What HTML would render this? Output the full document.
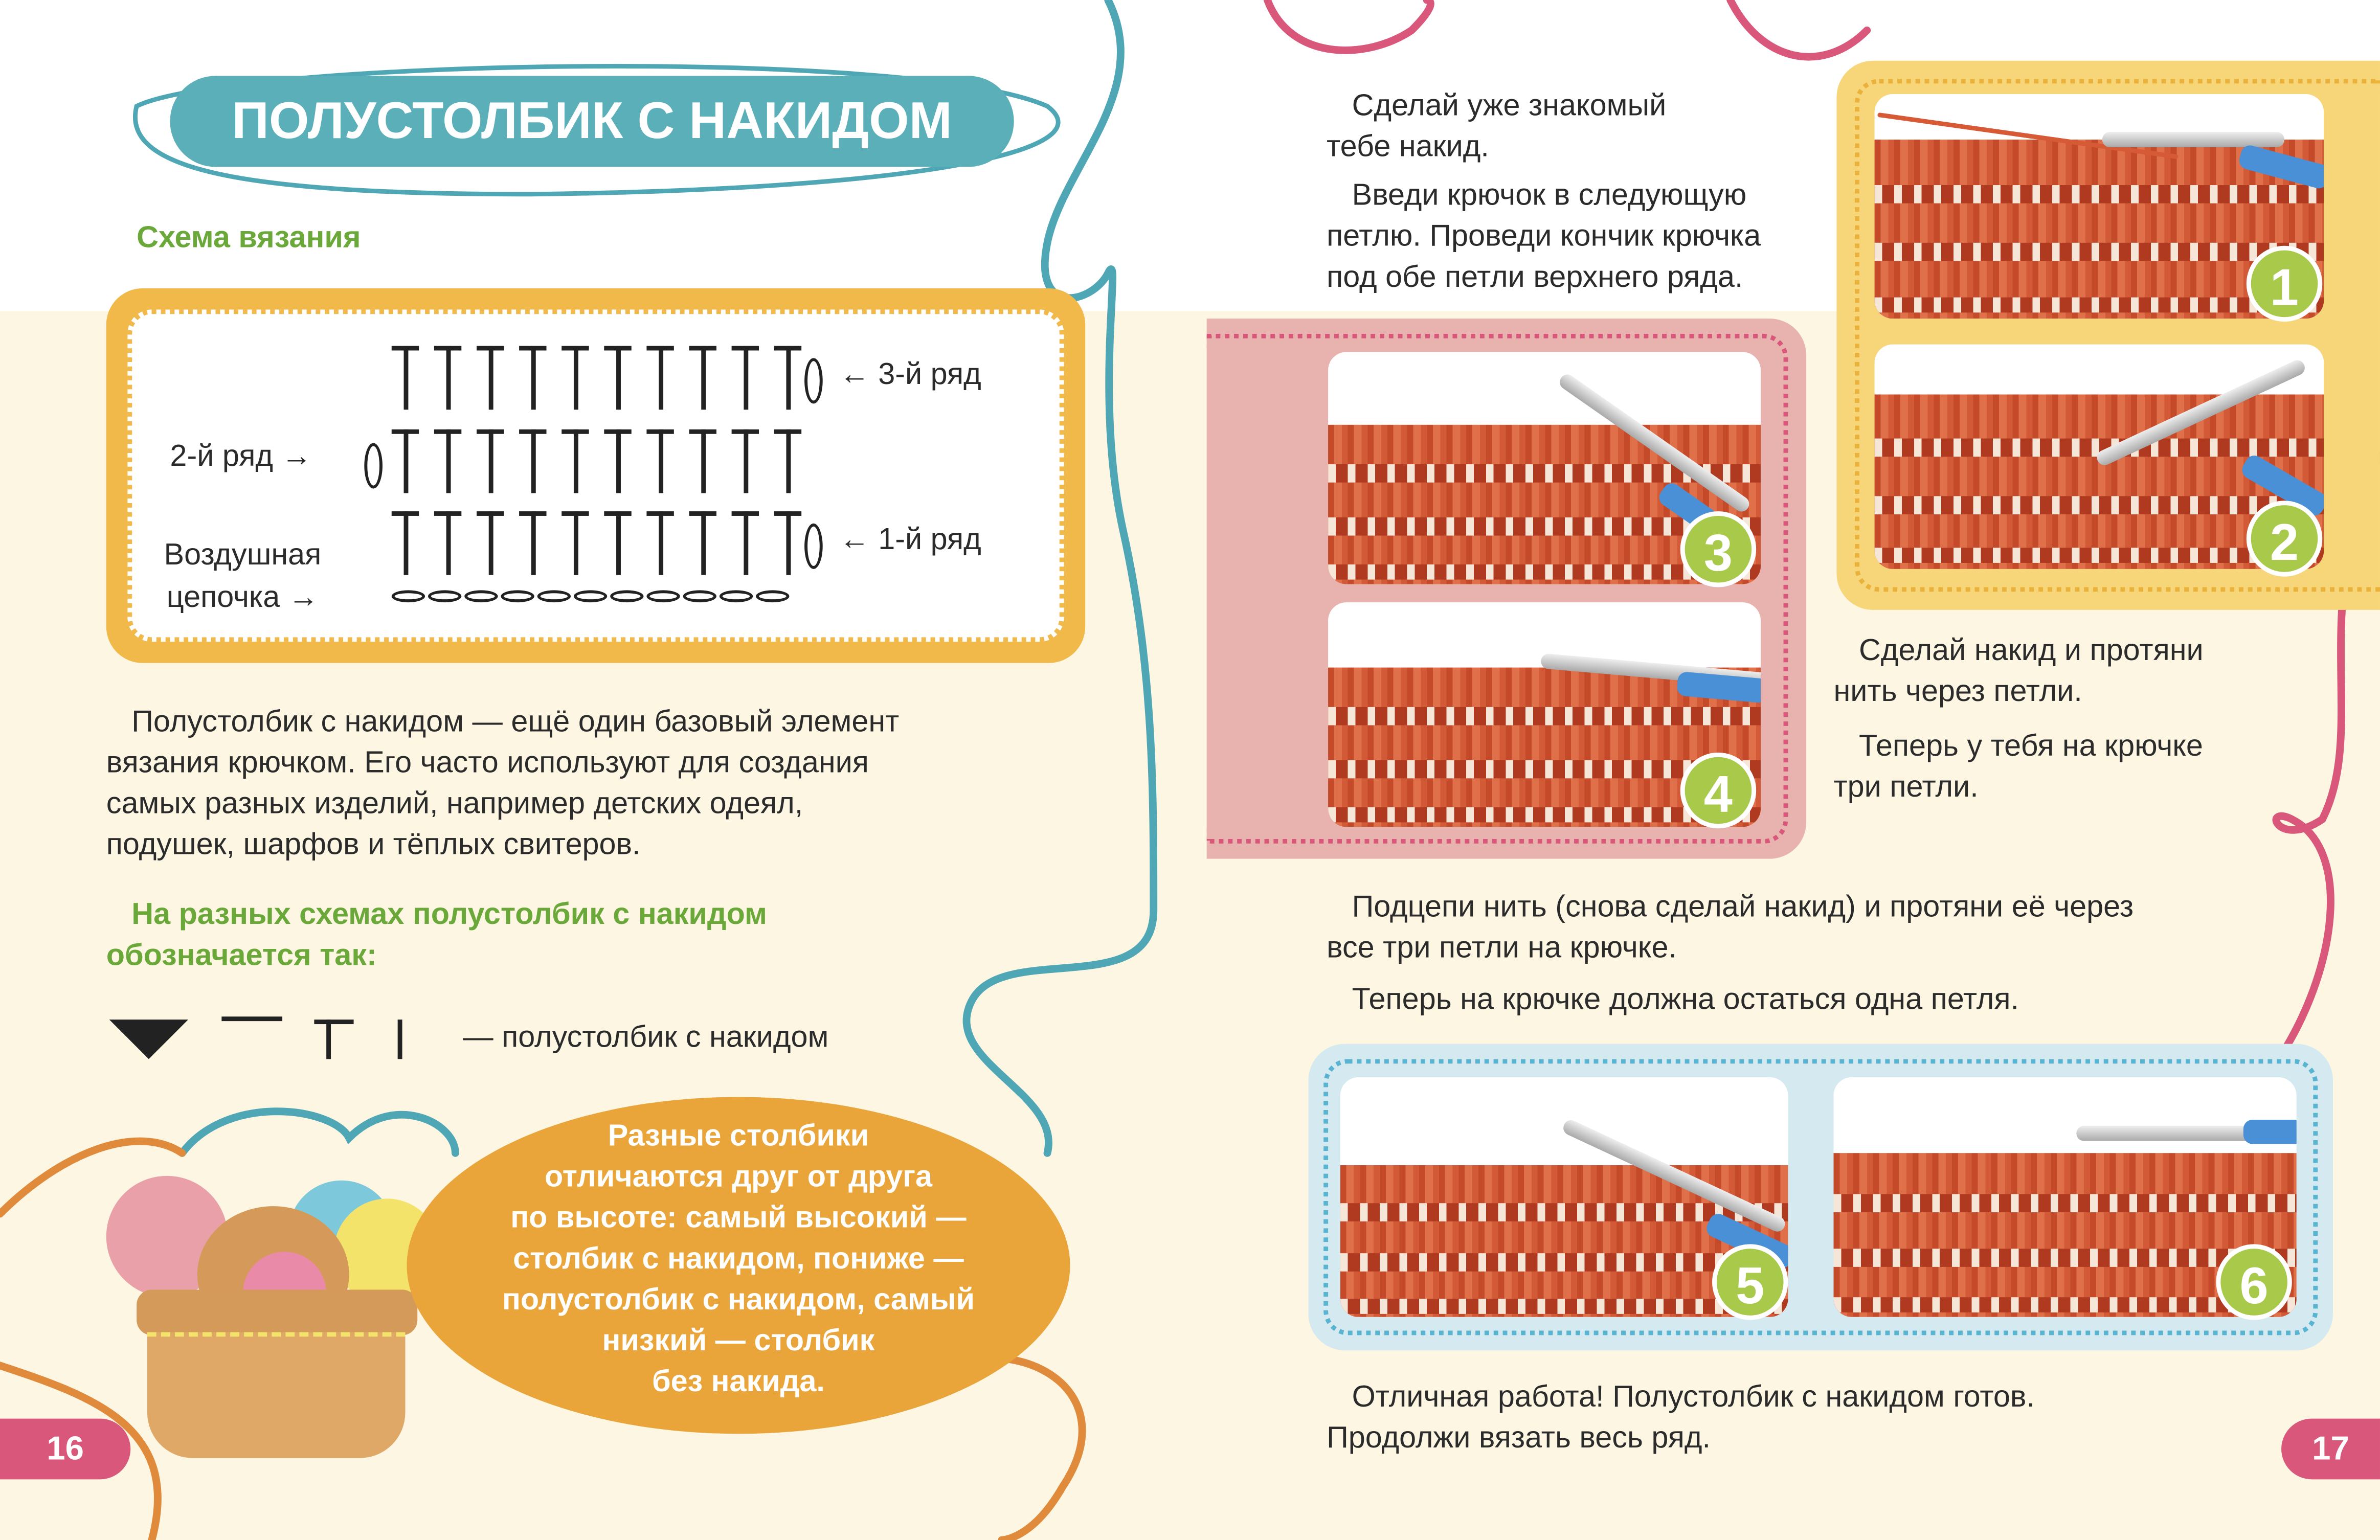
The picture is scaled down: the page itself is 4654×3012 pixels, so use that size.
<!DOCTYPE html>
<html><head><meta charset="utf-8">
<style>
html,body{margin:0;padding:0;}
body{width:4654px;height:3012px;overflow:hidden;background:#fff;}
#w{position:absolute;left:0;top:0;width:1568px;height:1015px;transform:scale(2.9681,2.9675);transform-origin:0 0;font-family:"Liberation Sans","DejaVu Sans",sans-serif;color:#2b2b2b;overflow:hidden;background:#fff;}
.a{position:absolute;}
.t{font-size:20px;line-height:27px;white-space:nowrap;}
.g{color:#6aa83a;font-weight:bold;font-size:20px;}
.ph{position:absolute;border-radius:12px;overflow:hidden;background:#fff;}
.kn{position:absolute;left:0;right:0;bottom:0;background:
repeating-linear-gradient(90deg,#c44a2a 0 4px,#e0704a 4px 9px,#d25a36 9px 13px),#d65a35;}
.kn:before{content:"";position:absolute;left:0;right:0;top:25%;height:12px;background:repeating-linear-gradient(90deg,#f6e6d8 0 5px,#b03a20 5px 13px);}
.kn:after{content:"";position:absolute;left:0;right:0;top:58%;height:12px;background:repeating-linear-gradient(90deg,#f6e6d8 0 5px,#b03a20 5px 13px);}
.kn i{position:absolute;left:0;right:0;top:88%;height:10px;background:repeating-linear-gradient(90deg,#f6e6d8 0 5px,#b03a20 5px 13px);}
.hook{position:absolute;height:10px;background:linear-gradient(#eee,#a9a9a9);border-radius:5px;}
.hb{position:absolute;height:16px;background:#4a90d6;border-radius:6px;}
.num{position:absolute;width:50px;height:50px;border-radius:50%;background:#a9c94a;color:#fff;font-weight:bold;font-size:34px;text-align:center;line-height:50px;border:3px solid #fff;box-sizing:border-box;}
.pg{position:absolute;background:#d9577a;color:#fff;font-weight:bold;font-size:22px;line-height:40px;text-align:center;}
.T{position:absolute;width:18px;height:42px;}
.T:before{content:"";position:absolute;left:0;right:0;top:0;height:3px;background:#222;}
.T:after{content:"";position:absolute;left:8px;width:3px;top:0;bottom:0;background:#222;}
.o{position:absolute;width:8px;height:26px;border:2px solid #222;border-radius:50%;}
</style></head><body><div id="w">
<div class="a" style="left:0;top:205px;width:1568px;height:810px;background:#fcf6e2"></div>

<svg class="a" style="left:0;top:0" width="1568" height="1015">
<g fill="none" stroke-width="5" stroke-linecap="round">
<path d="M730 0 C760 60 700 110 690 160 C680 210 720 200 730 180 C740 160 720 260 740 350 C760 440 760 520 760 600 C760 660 660 620 640 660 C620 700 700 720 690 760" stroke="#4fa7b5"/>
<path d="M90 70 C150 40 600 30 690 70 C730 100 600 125 350 128 C150 128 80 110 90 70 Z" stroke="#4fa7b5" stroke-width="3"/>
<path d="M120 760 C150 720 220 730 230 750 C260 720 300 740 300 760" stroke="#4fa7b5"/>
<path d="M835 0 C850 40 900 40 930 20 C950 0 940 0 940 0" stroke="#d9577a"/>
<path d="M1140 0 C1160 40 1200 50 1230 20" stroke="#d9577a"/>
<path d="M1568 300 C1520 400 1560 480 1530 540 C1500 560 1490 530 1510 540 C1550 560 1540 640 1500 700 C1480 750 1530 800 1510 850" stroke="#d9577a"/>
<path d="M0 800 C40 760 90 740 120 760" stroke="#e08a3c"/>
<path d="M0 900 C60 920 120 940 100 1015" stroke="#e08a3c"/>
<path d="M620 900 C680 880 740 920 700 980 C680 1015 660 1015 660 1015" stroke="#e08a3c"/>
</g></svg>

<div class="a" style="left:112px;top:50px;width:556px;height:60px;border-radius:30px;background:#5aafb8;color:#fff;font-weight:bold;font-size:34px;line-height:60px;text-align:center;letter-spacing:0px;">ПОЛУСТОЛБИК С НАКИДОМ</div>
<div class="a g" style="left:90px;top:146px;">Схема вязания</div>

<div class="a" style="left:70px;top:190px;width:645px;height:247px;border-radius:24px;background:#f0b94a;"></div>
<div class="a" style="left:84px;top:204px;width:617px;height:219px;border-radius:16px;background:#fff;border:3px dotted #f0b94a;box-sizing:border-box;"></div>
<div id="sch"></div>
<div class="a" style="left:553px;top:236px;font-size:20px;">← 3-й ряд</div>
<div class="a" style="left:112px;top:290px;font-size:20px;">2-й ряд →</div>
<div class="a" style="left:553px;top:345px;font-size:20px;">← 1-й ряд</div>
<div class="a" style="left:108px;top:352px;font-size:20px;text-align:center;line-height:28px;">Воздушная<br>цепочка →</div>

<div class="a t" style="left:70px;top:463px;">&nbsp;&nbsp;&nbsp;Полустолбик с накидом — ещё один базовый элемент<br>вязания крючком. Его часто используют для создания<br>самых разных изделий, например детских одеял,<br>подушек, шарфов и тёплых свитеров.</div>
<div class="a g" style="left:70px;top:590px;line-height:27px;white-space:nowrap;">&nbsp;&nbsp;&nbsp;На разных схемах полустолбик с накидом<br>обозначается так:</div>
<div class="a" style="left:72px;top:672px;width:0;height:0;border-left:26px solid transparent;border-right:26px solid transparent;border-top:26px solid #222;"></div>
<div class="a" style="left:146px;top:670px;width:40px;height:3px;background:#222"></div>
<div class="T a" style="left:207px;top:672px;width:26px;height:26px"></div>
<div class="a" style="left:262px;top:672px;width:3px;height:26px;background:#222"></div>
<div class="a t" style="left:305px;top:671px;">— полустолбик с накидом</div>

<div class="a" style="left:70px;top:775px;width:80px;height:80px;border-radius:50%;background:#e9a0a8"></div>
<div class="a" style="left:190px;top:778px;width:70px;height:70px;border-radius:50%;background:#7ec8dc"></div>
<div class="a" style="left:220px;top:790px;width:70px;height:70px;border-radius:50%;background:#f4e36a"></div>
<div class="a" style="left:130px;top:795px;width:100px;height:90px;border-radius:50%;background:#d59a5a"></div>
<div class="a" style="left:160px;top:825px;width:55px;height:55px;border-radius:50%;background:#e98aa8"></div>
<div class="a" style="left:90px;top:850px;width:185px;height:30px;border-radius:10px;background:#d39a5a"></div>
<div class="a" style="left:97px;top:878px;width:170px;height:80px;border-radius:0 0 30px 30px;background:#dfa866;border-top:3px dashed #f4e36a"></div>

<div class="a" style="left:268px;top:723px;width:437px;height:222px;border-radius:50%/50%;background:#eaa53a;color:#fff;font-weight:bold;font-size:20px;line-height:27px;text-align:center;padding-top:13px;box-sizing:border-box;">Разные столбики<br>отличаются друг от друга<br>по высоте: самый высокий —<br>столбик с накидом, пониже —<br>полустолбик с накидом, самый<br>низкий — столбик<br>без накида.</div>

<div class="pg" style="left:0;top:935px;width:86px;border-radius:0 20px 20px 0;">16</div>
<div class="pg" style="left:1503px;top:935px;width:65px;border-radius:20px 0 0 20px;">17</div>

<div class="a t" style="left:874px;top:57px;">&nbsp;&nbsp;&nbsp;Сделай уже знакомый<br>тебе накид.</div>
<div class="a t" style="left:874px;top:116px;">&nbsp;&nbsp;&nbsp;Введи крючок в следующую<br>петлю. Проведи кончик крючка<br>под обе петли верхнего ряда.</div>
<div class="a t" style="left:1208px;top:416px;">&nbsp;&nbsp;&nbsp;Сделай накид и протяни<br>нить через петли.</div>
<div class="a t" style="left:1208px;top:479px;">&nbsp;&nbsp;&nbsp;Теперь у тебя на крючке<br>три петли.</div>
<div class="a t" style="left:874px;top:585px;">&nbsp;&nbsp;&nbsp;Подцепи нить (снова сделай накид) и протяни её через<br>все три петли на крючке.</div>
<div class="a t" style="left:874px;top:646px;">&nbsp;&nbsp;&nbsp;Теперь на крючке должна остаться одна петля.</div>
<div class="a t" style="left:874px;top:908px;">&nbsp;&nbsp;&nbsp;Отличная работа! Полустолбик с накидом готов.<br>Продолжи вязать весь ряд.</div>

<div class="a" style="left:795px;top:210px;width:395px;height:356px;border-radius:0 24px 24px 0;background:#e8b2ae;"></div>
<div class="a" style="left:795px;top:220px;width:383px;height:336px;border:3px dotted #d9577a;border-left:none;border-radius:0 16px 16px 0;box-sizing:border-box;"></div>
<div class="a" style="left:1210px;top:40px;width:358px;height:362px;border-radius:24px 0 0 24px;background:#f7d67a;"></div>
<div class="a" style="left:1222px;top:52px;width:346px;height:338px;border:3px dotted #eab23a;border-right:none;border-radius:16px 0 0 16px;box-sizing:border-box;"></div>
<div class="a" style="left:862px;top:688px;width:675px;height:202px;border-radius:24px;background:#d4e9f0;"></div>
<div class="a" style="left:872px;top:698px;width:655px;height:182px;border:3px dotted #58b4d0;border-radius:16px;box-sizing:border-box;"></div>

<div class="ph" style="left:1235px;top:62px;width:296px;height:148px;"><div class="kn" style="height:118px"><i></i></div><div class="hook" style="left:1px;width:200px;transform:rotate(8deg);background:#d65a35;height:3px;top:26px"></div><div class="hook" style="left:150px;top:25px;width:120px"></div><div class="hb" style="left:240px;top:40px;width:60px;transform:rotate(15deg)"></div></div>
<div class="ph" style="left:1235px;top:227px;width:296px;height:148px;"><div class="kn" style="height:115px"><i></i></div><div class="hook" style="left:140px;top:40px;width:150px;transform:rotate(-25deg)"></div><div class="hb" style="left:240px;top:85px;width:60px;transform:rotate(30deg)"></div></div>
<div class="ph" style="left:875px;top:232px;width:285px;height:153px;"><div class="kn" style="height:105px"><i></i></div><div class="hook" style="left:140px;top:55px;width:150px;transform:rotate(35deg)"></div><div class="hb" style="left:215px;top:100px;width:60px;transform:rotate(35deg)"></div></div>
<div class="ph" style="left:875px;top:397px;width:285px;height:148px;"><div class="kn" style="height:105px"><i></i></div><div class="hook" style="left:140px;top:40px;width:150px;transform:rotate(5deg)"></div><div class="hb" style="left:230px;top:48px;width:60px;transform:rotate(5deg)"></div></div>
<div class="ph" style="left:883px;top:710px;width:295px;height:158px;"><div class="kn" style="height:100px"><i></i></div><div class="hook" style="left:140px;top:60px;width:160px;transform:rotate(25deg)"></div><div class="hb" style="left:240px;top:100px;width:60px;transform:rotate(25deg)"></div></div>
<div class="ph" style="left:1208px;top:710px;width:305px;height:158px;"><div class="kn" style="height:108px"><i></i></div><div class="hook" style="left:160px;top:32px;width:150px"></div><div class="hb" style="left:270px;top:28px;width:40px"></div></div>

<div class="num" style="left:1480px;top:162px;">1</div>
<div class="num" style="left:1480px;top:330px;">2</div>
<div class="num" style="left:1107px;top:337px;">3</div>
<div class="num" style="left:1107px;top:496px;">4</div>
<div class="num" style="left:1128px;top:820px;">5</div>
<div class="num" style="left:1460px;top:820px;">6</div>

<script>
var s='';
function row(y){for(var i=0;i<10;i++)s+='<div class="T" style="left:'+(258+i*28)+'px;top:'+y+'px"></div>';}
row(228);row(283);row(337);
s+='<div class="o" style="left:530px;top:236px"></div><div class="o" style="left:240px;top:292px"></div><div class="o" style="left:530px;top:345px"></div>';
for(var i=0;i<11;i++)s+='<div class="a" style="left:'+(258+i*24)+'px;top:389px;width:22px;height:8px;border:2px solid #222;border-radius:50%;box-sizing:border-box"></div>';
document.getElementById('sch').innerHTML=s;
</script>
</div></body></html>
